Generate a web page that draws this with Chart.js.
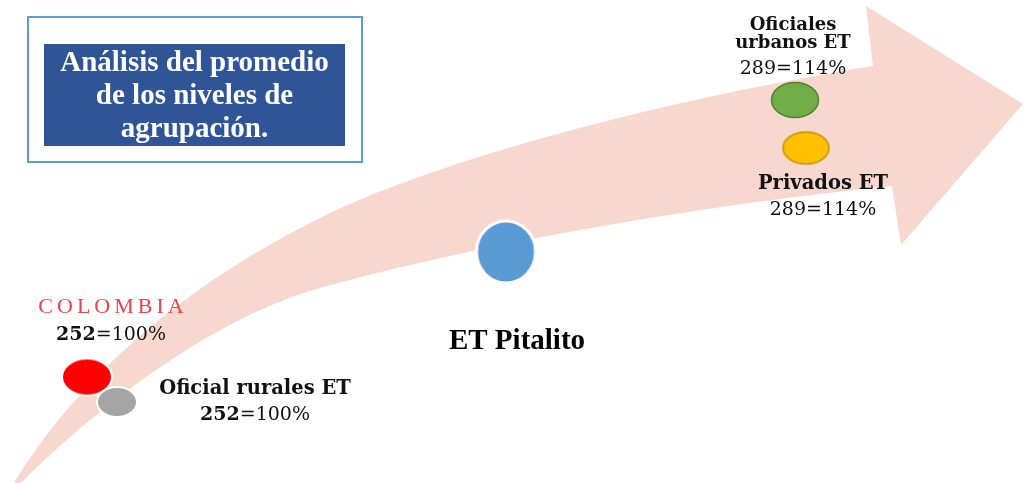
<!DOCTYPE html>
<html>
<head>
<meta charset="utf-8">
<script src="https://cdn.jsdelivr.net/npm/chart.js@4.4.1/dist/chart.umd.min.js"></script>
<style>
  html, body { margin: 0; padding: 0; background: #fff; }
  #wrap { width: 1024px; height: 483px; }
</style>
</head>
<body>
<div id="wrap"><canvas id="chart" width="1024" height="483"></canvas></div>
<script>
"use strict";
// data
var title = ['Análisis del promedio', 'de los niveles de', 'agrupación.'];
var categories = [['COLOMBIA'], ['Oficial rurales ET'], ['ET Pitalito'], ['Oficiales', 'urbanos ET'], ['Privados ET']];
var scores = [252, 252, null, 289, 289];
var percents = [100, 100, null, 114, 114];
var boldScore = [true, true, false, false, false];

// colours
var fills = ['#ff0000', '#a5a5a5', '#5b9bd5', '#70ad47', '#ffc000'];
var strokes = ['#ffffff', '#ffffff', '#ffffff', '#548235', '#bf9000'];

// layout, in the units of the hidden scales (1 unit = 1 px)
var markerPos = [[87, 377], [117, 402], [506, 252], [795, 100], [806, 148]];
var markerRad = [[25, 18.5], [20, 15], [29.5, 31], [23.5, 17.5], [23, 16]];
var markerBorder = [2, 2, 3, 1.5, 1.5];
var labelX = [111, 255, 517, 793, 823];
var nameY = [[313], [394], [349], [30, 48], [189]];
var valueY = [340, 420, null, 74, 215];
var nameSize = [22, 19.5, 29, 18, 19.5];

// arrow outline: start point, then cubic segments [c1, c2, end], head corners
var upperStart = [12, 486];
var upperEdge = [[[102, 338], [240, 258], [320, 218]], [[440, 158], [673, 98], [873, 66]]];
var head = [[866, 6], [1023, 104], [901, 245], [892, 186]];
var lowerEdge = [[[692, 206], [470, 246], [320, 288]], [[230, 313], [118, 386], [18, 486]]];

function ellipseStyle(rx, ry, fill, stroke, bw) {
    var c = document.createElement('canvas');
    c.width = Math.ceil(2 * (rx + bw)) + 2;
    c.height = Math.ceil(2 * (ry + bw)) + 2;
    var g = c.getContext('2d');
    g.beginPath();
    g.ellipse(c.width / 2, c.height / 2, rx, ry, 0, 0, Math.PI * 2);
    g.fillStyle = fill;
    g.fill();
    g.lineWidth = bw;
    g.strokeStyle = stroke;
    g.stroke();
    return c;
}
var styles = markerRad.map(function(r, i) {
    return ellipseStyle(r[0], r[1], fills[i], strokes[i], markerBorder[i]);
});

var backdrop = {
    id: 'backdrop',
    beforeDatasetsDraw: function(chart) {
        var ctx = chart.ctx, sx = chart.scales.x, sy = chart.scales.y;
        var px = function(p) { return [sx.getPixelForValue(p[0]), sy.getPixelForValue(p[1])]; };
        var seg = function(s) {
            var a = px(s[0]), b = px(s[1]), c = px(s[2]);
            ctx.bezierCurveTo(a[0], a[1], b[0], b[1], c[0], c[1]);
        };
        ctx.save();
        ctx.beginPath();
        var p0 = px(upperStart);
        ctx.moveTo(p0[0], p0[1]);
        upperEdge.forEach(seg);
        head.map(px).forEach(function(p) { ctx.lineTo(p[0], p[1]); });
        lowerEdge.forEach(seg);
        ctx.closePath();
        ctx.fillStyle = '#f8d8ce';
        ctx.fill();

        // title box
        ctx.strokeStyle = '#5b9bd5';
        ctx.lineWidth = 2;
        ctx.strokeRect(28, 17, 334, 145);
        ctx.fillStyle = '#2f5597';
        ctx.fillRect(44, 44, 301, 102);
        ctx.fillStyle = '#ffffff';
        ctx.font = 'bold 29px "Liberation Serif"';
        ctx.textAlign = 'center';
        ctx.textBaseline = 'alphabetic';
        title.forEach(function(t, i) { ctx.fillText(t, 194.5, 71 + i * 33); });
        ctx.restore();
    }
};

var labels = {
    id: 'labels',
    afterDatasetsDraw: function(chart) {
        var ctx = chart.ctx, sx = chart.scales.x, sy = chart.scales.y;
        ctx.save();
        ctx.textBaseline = 'alphabetic';
        categories.forEach(function(lines, i) {
            var x = sx.getPixelForValue(labelX[i]);
            ctx.textAlign = 'center';
            ctx.letterSpacing = '0px';
            if (i === 0) {
                ctx.font = nameSize[i] + 'px "Liberation Serif"';
                ctx.letterSpacing = '4px';
                ctx.fillStyle = '#f2404a';
                x += 2;
            } else if (scores[i] === null) {
                ctx.font = 'bold ' + nameSize[i] + 'px "Liberation Serif"';
                ctx.fillStyle = '#000000';
            } else {
                ctx.font = 'bold ' + nameSize[i] + 'px "DejaVu Serif"';
                ctx.fillStyle = '#111111';
            }
            lines.forEach(function(t, j) { ctx.fillText(t, x, sy.getPixelForValue(nameY[i][j])); });
            ctx.letterSpacing = '0px';

            if (scores[i] !== null) {
                x = sx.getPixelForValue(labelX[i]);
                var a = String(scores[i]), b = '=' + percents[i] + '%';
                var fa = (boldScore[i] ? 'bold ' : '') + '19px "DejaVu Serif"';
                var fb = '19px "DejaVu Serif"';
                ctx.font = fa; var wa = ctx.measureText(a).width;
                ctx.font = fb; var wb = ctx.measureText(b).width;
                var y = sy.getPixelForValue(valueY[i]);
                var x0 = x - (wa + wb) / 2;
                ctx.textAlign = 'left';
                ctx.fillStyle = '#111111';
                ctx.font = fa; ctx.fillText(a, x0, y);
                ctx.font = fb; ctx.fillText(b, x0 + wa, y);
            }
        });
        ctx.restore();
    }
};

new Chart(document.getElementById('chart').getContext('2d'), {
    type: 'scatter',
    data: {
        datasets: [{
            data: markerPos.map(function(p) { return { x: p[0], y: p[1] }; }),
            pointStyle: function(c) { return styles[c.dataIndex]; },
            pointRadius: function(c) { return markerRad[c.dataIndex][0]; },
            clip: false
        }]
    },
    options: {
        responsive: false,
        devicePixelRatio: 1,
        animation: false,
        events: [],
        layout: { padding: 0, autoPadding: false },
        scales: {
            x: { type: 'linear', display: false, min: 0, max: 1024 },
            y: { type: 'linear', display: false, min: 0, max: 483, reverse: true }
        },
        plugins: { legend: { display: false }, tooltip: { enabled: false } }
    },
    plugins: [backdrop, labels]
});
</script>
</body>
</html>
